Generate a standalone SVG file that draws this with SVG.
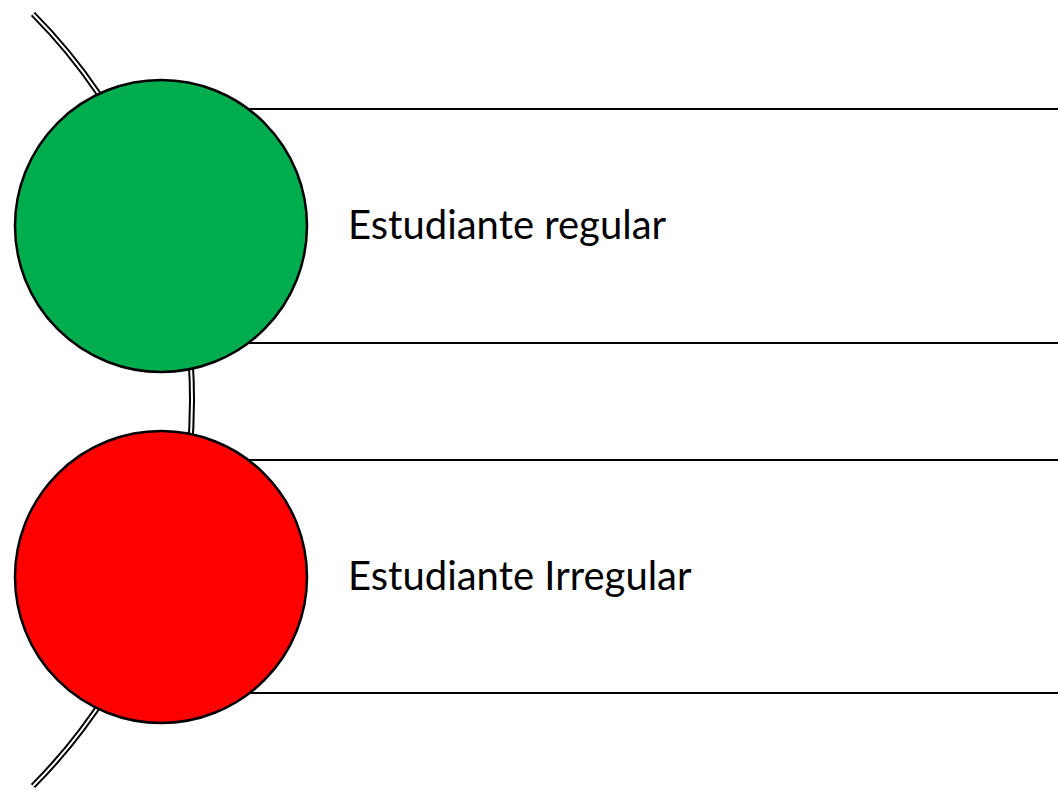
<svg xmlns="http://www.w3.org/2000/svg" width="1058" height="790" viewBox="0 0 1058 790">
<style>
.line{stroke:#000;stroke-width:2;fill:none}
.arcO{stroke:#000;stroke-width:6;fill:none}
.arcI{stroke:#fff;stroke-width:2;fill:none}
.node{stroke:#000;stroke-width:2.5}
.lbl{font-family:Lato,"Open Sans",sans-serif;font-size:40px;fill:#000}
</style>
<rect width="1058" height="790" fill="#fff"/>
<g id="connectors">
<path class="arcO" d="M33,14 A548,548 0 0 1 33,786"/>
<path class="arcI" d="M33,14 A548,548 0 0 1 33,786"/>
</g>
<g id="row1">
<line class="line" x1="161" y1="109" x2="1058" y2="109"/>
<line class="line" x1="161" y1="343" x2="1058" y2="343"/>
</g>
<g id="row2">
<line class="line" x1="161" y1="460" x2="1058" y2="460"/>
<line class="line" x1="161" y1="693" x2="1058" y2="693"/>
</g>
<g id="node1">
<circle class="node" cx="161" cy="226" r="146" fill="#00AD4E"/>
<text class="lbl" x="348" y="239">Estudiante regular</text>
</g>
<g id="node2">
<circle class="node" cx="161" cy="577" r="146" fill="#FF0000"/>
<text class="lbl" x="348" y="590">Estudiante Irregular</text>
</g>
</svg>
